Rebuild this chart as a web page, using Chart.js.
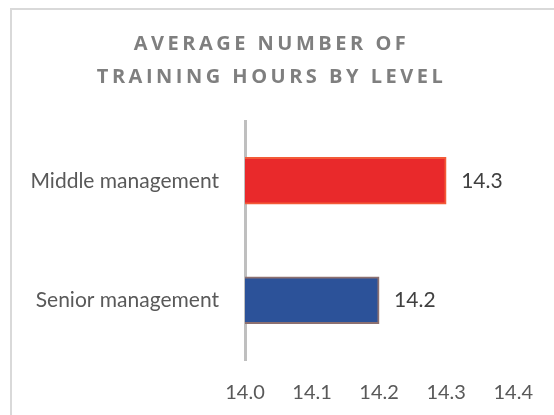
<!DOCTYPE html>
<html>
<head>
<meta charset="utf-8">
<script src="https://cdn.jsdelivr.net/npm/chart.js@4.4.0/dist/chart.umd.min.js"></script>
<style>
  html, body { margin: 0; padding: 0; background: #fff; overflow: hidden; }
  #frame { position: absolute; left: 10px; top: 8px; width: 544px; height: 407px; border-left: 2px solid #d9d9d9; border-top: 2px solid #d9d9d9; }
  #wrap { position: absolute; left: 12px; top: 10px; width: 542px; height: 405px; }
</style>
</head>
<body>
<div id="frame"></div>
<div id="wrap"><canvas id="chart"></canvas></div>
<script>
const categories = ['Middle management', 'Senior management'];
const hours = [14.3, 14.2];
const barColors = ['#e9292b', '#2c5299'];
const barEdges = ['#f35a38', '#8c7070'];
const xTicks = [14.0, 14.1, 14.2, 14.3, 14.4];
const titleLines = ['AVERAGE NUMBER OF', 'TRAINING HOURS BY LEVEL'];

const FONT = 'Lato';

// value printed to the right of each bar
const valueLabels = {
  id: 'valueLabels',
  afterDatasetsDraw(chart) {
    const ctx = chart.ctx;
    const meta = chart.getDatasetMeta(0);
    ctx.save();
    ctx.font = '21px ' + FONT;
    ctx.fillStyle = '#404040';
    ctx.textBaseline = 'middle';
    ctx.textAlign = 'left';
    meta.data.forEach((bar, i) => {
      ctx.fillText(hours[i].toFixed(1), bar.x + 15, bar.y);
    });
    ctx.restore();
  }
};

// wide letter spacing for the title, nudged a little right
const titleSpacing = {
  id: 'titleSpacing',
  afterLayout(chart) {
    const block = chart.titleBlock;
    if (block && !block._spaced) {
      const draw = block.draw.bind(block);
      block.draw = function() {
        chart.ctx.save();
        chart.ctx.letterSpacing = '3.5px';
        chart.ctx.translate(8, 0);
        draw();
        chart.ctx.restore();
      };
      block._spaced = true;
    }
  }
};

new Chart(document.getElementById('chart'), {
  type: 'bar',
  data: {
    labels: categories,
    datasets: [{
      data: hours,
      backgroundColor: barColors,
      borderColor: barEdges,
      borderWidth: 2,
      borderSkipped: false,
      barThickness: 47
    }]
  },
  options: {
    indexAxis: 'y',
    responsive: true,
    maintainAspectRatio: false,
    animation: false,
    layout: { padding: { left: 0, right: 39, top: 0, bottom: 0 } },
    plugins: {
      legend: { display: false },
      tooltip: { enabled: false },
      title: {
        display: true,
        text: titleLines,
        color: '#7f7f7f',
        font: { family: 'Open Sans', size: 20, weight: 'bold', lineHeight: 33 / 20 },
        padding: { top: 18, bottom: 27 }
      }
    },
    scales: {
      x: {
        min: 14.0,
        max: 14.4,
        afterBuildTicks: s => { s.ticks = xTicks.map(v => ({ value: v })); },
        ticks: {
          callback: v => Number(v).toFixed(1),
          color: '#595959',
          font: { family: FONT, size: 20 },
          padding: 21
        },
        grid: { display: false, drawTicks: false },
        border: { display: false },
        afterFit: s => { s.height = 55; }
      },
      y: {
        grid: { display: false, drawTicks: false },
        border: { display: true, color: '#bfbfbf', width: 3 },
        ticks: {
          color: '#595959',
          font: { family: FONT, size: 21 },
          padding: 26
        },
        afterFit: s => { s.width = 233; }
      }
    }
  },
  plugins: [valueLabels, titleSpacing]
});
</script>
</body>
</html>
